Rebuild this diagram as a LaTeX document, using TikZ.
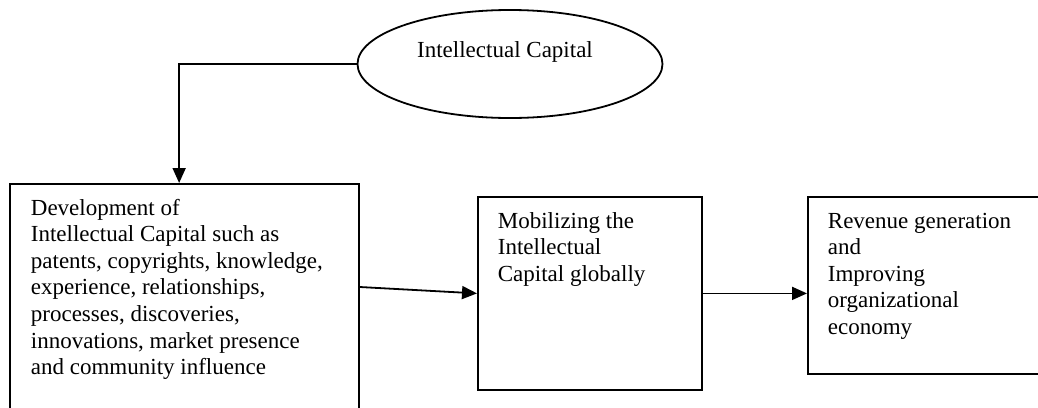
\documentclass[tikz,border=0pt]{standalone}
\usepackage{fontspec}
\setmainfont{Liberation Serif}
\usetikzlibrary{shapes.geometric,arrows.meta,calc}

\tikzset{
  flowbox/.style={draw, rectangle, anchor=north west, inner sep=0pt},
  % multi-line texts are placed by the baseline of their last line
  boxtext/.style={anchor=base west, align=left, inner sep=0pt,
    font=\fontsize{23}{26.6}\selectfont},
  flowarrow/.style={-{Triangle[length=15pt,width=13pt]}},
}

\begin{document}
\begin{tikzpicture}[x=1pt, y=-1pt, line width=1.8pt, line join=miter]
  \useasboundingbox (0,0) rectangle (1038,407);
  \clip (0,0) rectangle (1038,407);
  \fill[white] (0,0) rectangle (1038,407);

  % source ellipse
  \node[draw, ellipse, minimum width=305pt, minimum height=108pt, inner sep=0pt]
    (ic) at (510,64) {};
  \node[boxtext, anchor=base] (ictext) at (505,57) {Intellectual Capital};

  % process boxes
  \node[flowbox, minimum width=349pt, minimum height=260pt] (dev) at (9,183) {};
  \node[flowbox, minimum width=224pt, minimum height=193pt] (mob) at (477,196) {};
  \node[flowbox, minimum width=260pt, minimum height=177pt] (rev) at (807,196) {};

  % box texts
  \node[boxtext] (devtext) at (30,374.6) {Development of\\Intellectual Capital such as\\patents, copyrights, knowledge,\\experience, relationships,\\processes, discoveries,\\innovations, market presence\\and community influence};
  \node[boxtext] (mobtext) at (497,281.2) {Mobilizing the\\Intellectual\\Capital globally};
  \node[boxtext] (revtext) at (827,334.4) {Revenue generation\\and\\Improving\\organizational\\economy};

  % connectors
  \coordinate (devin) at ($(dev.north west)!0.485!(dev.north east)$);
  \draw[flowarrow] (ic.west) -| (devin);
  \draw[flowarrow] ([yshift=-104pt]dev.north east) -- (mob.west);
  \draw[flowarrow] (mob.east) -- (mob.east -| rev.west);
\end{tikzpicture}
\end{document}
